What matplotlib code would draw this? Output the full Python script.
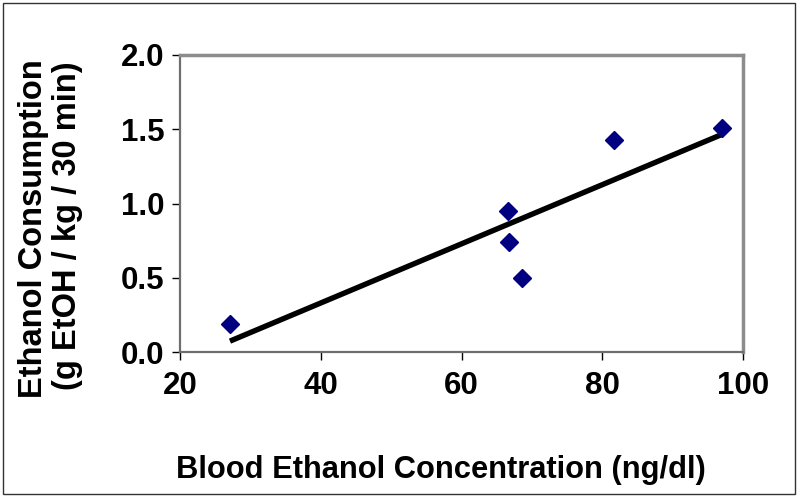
import matplotlib
matplotlib.use("Agg")
import matplotlib.pyplot as plt
import numpy as np
from matplotlib.patches import Rectangle

bec = [27.1, 66.6, 66.8, 68.6, 81.6, 97.0]
consumption = [0.19, 0.95, 0.74, 0.50, 1.43, 1.51]
xticks = [20, 40, 60, 80, 100]
yticks = [0.0, 0.5, 1.0, 1.5, 2.0]

plt.rcParams['font.family'] = ['Liberation Sans', 'DejaVu Sans']

W, H = 800, 499
fig = plt.figure(figsize=(8, 4.99), dpi=100)
ax = fig.add_axes([180/W, 1-352/H, (743-180)/W, (352-55)/H])

slope, intercept = np.polyfit(bec, consumption, 1)
xl = np.array([min(bec), max(bec)])
ax.plot(xl, slope*xl + intercept, color='black', lw=3.9, solid_capstyle='butt', zorder=2)
ax.plot(bec, consumption, linestyle='none', marker='D', markersize=9,
        color='#000080', zorder=3)

ax.set_xlim(20, 100)
ax.set_ylim(0, 2.0)
ax.set_xticks(xticks)
ax.set_xticklabels([str(v) for v in xticks])
ax.set_yticks(yticks)
ax.set_yticklabels([f"{v:.1f}" for v in yticks])
ax.tick_params(axis='both', direction='out', length=6, width=1, color='black',
               labelsize=22.5)
ax.tick_params(axis='y', pad=5)
ax.tick_params(axis='x', pad=8)
for lab in ax.get_xticklabels() + ax.get_yticklabels():
    lab.set_fontweight('bold')

for side in ['top', 'right']:
    ax.spines[side].set_color('#8c8c8c')
    ax.spines[side].set_linewidth(2.5)
for side in ['left', 'bottom']:
    ax.spines[side].set_color('#6e6e6e')
    ax.spines[side].set_linewidth(1.6)

fig.text(441/W, 1-478/H, 'Blood Ethanol Concentration (ng/dl)', fontsize=22.2,
         fontweight='bold', ha='center', va='baseline')
fig.text(42/W, 1-229/H, 'Ethanol Consumption', fontsize=23.5, fontweight='bold',
         rotation=90, rotation_mode='anchor', ha='center', va='baseline')
fig.text(76/W, 1-226/H, '(g EtOH / kg / 30 min)', fontsize=23.5, fontweight='bold',
         rotation=90, rotation_mode='anchor', ha='center', va='baseline')

fig.patches.append(Rectangle((3/W, 5/H), 792/W, 491/H, transform=fig.transFigure,
                             fill=False, edgecolor='#333333', lw=1))

fig.savefig('out.png', dpi=100)
